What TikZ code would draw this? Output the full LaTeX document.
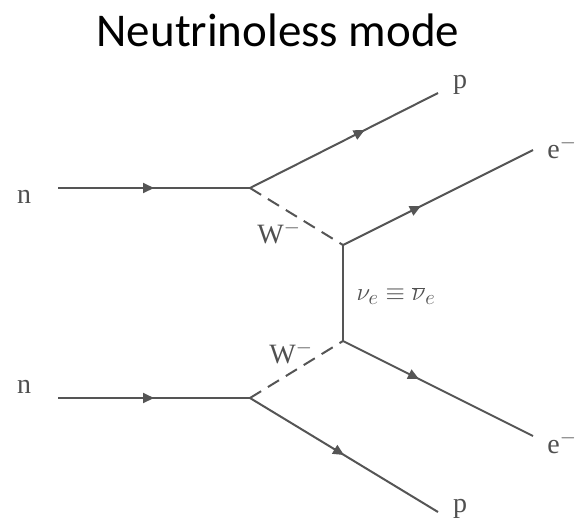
\documentclass[tikz,border=0pt]{standalone}
\usepackage{fontspec}
\setmainfont{Liberation Serif}
\newfontfamily\titlefont{Carlito}
\usetikzlibrary{arrows.meta,decorations.markings}
\definecolor{linegray}{HTML}{555555}
\definecolor{textgray}{HTML}{505050}

\begin{document}
\begin{tikzpicture}[
    x=1pt, y=-1pt,
    fermion/.style={line width=2pt, color=linegray, postaction={decorate},
      decoration={markings, mark=at position #1 with {\arrow{Triangle[length=11pt,width=10pt]}}}},
    boson/.style={line width=2pt, color=linegray, dash pattern=on 13pt off 8pt},
    prop/.style={line width=2pt, color=linegray},
    lbl/.style={anchor=base, text=textgray, inner sep=0pt, font=\fontsize{28}{30}\selectfont}
]
\useasboundingbox (0,0) rectangle (575,520);

% Titel
\node[anchor=base, font=\titlefont\fontsize{47}{50}\selectfont] (title) at (278,46) {Neutrinoless mode};

% Vertices und freie Enden
\coordinate (V1) at (250,188);
\coordinate (V2) at (343,245);
\coordinate (V3) at (343,341);
\coordinate (V4) at (250,398);
\coordinate (nA) at (58,188);
\coordinate (nB) at (58,398);
\coordinate (pA) at (438,93);
\coordinate (pB) at (438,512);
\coordinate (eA) at (533,150);
\coordinate (eB) at (533,436);

% Linien
\draw[fermion=0.5] (nA) -- (V1);
\draw[fermion=0.5] (nB) -- (V4);
\draw[fermion=0.61] (V1) -- (pA);
\draw[fermion=0.5] (V4) -- (pB);
\draw[fermion=0.41] (V2) -- (eA);
\draw[fermion=0.4] (V3) -- (eB);
\draw[boson] (V1) -- (V2);
\draw[boson] (V4) -- (V3);
\draw[prop] (V2) -- (V3);

% Beschriftungen
\node[lbl] (nTop) at (24,203) {n};
\node[lbl] (nBot) at (24,393) {n};
\node[lbl] (pTop) at (460,88) {p};
\node[lbl] (pBot) at (460,512) {p};
\node[lbl] (eTop) at (562,158) {e$^-$};
\node[lbl] (eBot) at (562,453) {e$^-$};
\node[lbl] (WTop) at (279,243) {W$^-$};
\node[lbl] (WBot) at (291,363) {W$^-$};
\node[lbl, anchor=center] (nuLbl) at (396,296) {$\nu_e \equiv \overline{\nu}_e$};

\end{tikzpicture}
\end{document}
